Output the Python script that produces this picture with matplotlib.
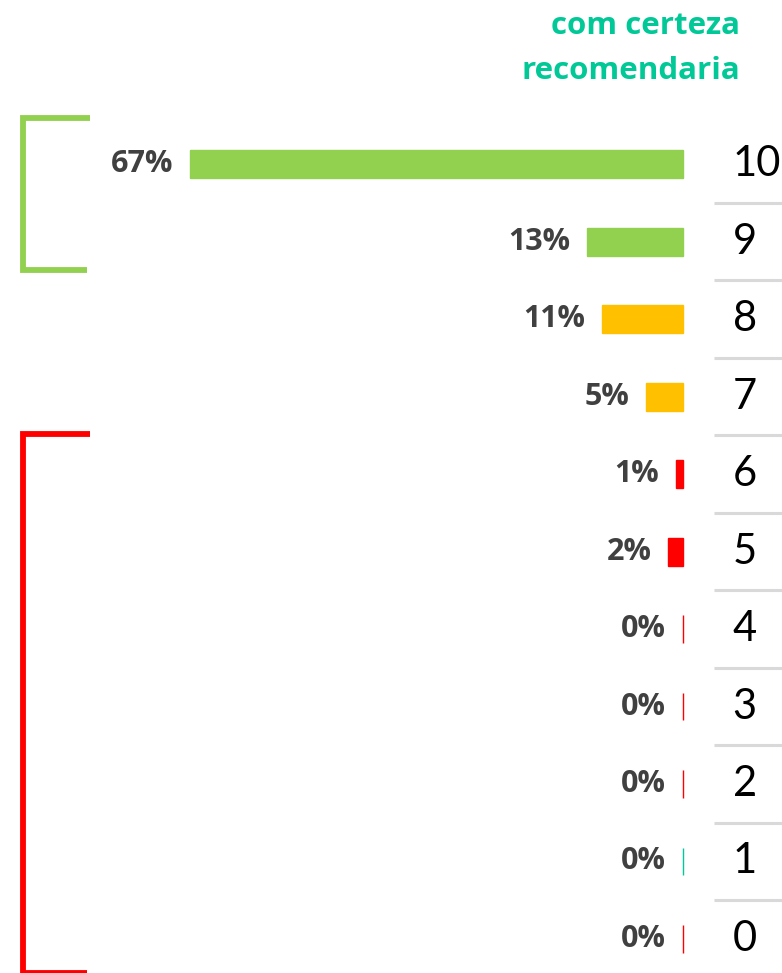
import matplotlib
matplotlib.use("Agg")
import matplotlib.pyplot as plt
import matplotlib.transforms as mtransforms

scores = [10, 9, 8, 7, 6, 5, 4, 3, 2, 1, 0]
shares = [67, 13, 11, 5, 1, 2, 0, 0, 0, 0, 0]
labels = ["67%", "13%", "11%", "5%", "1%", "2%", "0%", "0%", "0%", "0%", "0%"]
bar_colors = ["#92D050", "#92D050", "#FFC000", "#FFC000", "#FF0000", "#FF0000",
              "#FF0000", "#FF0000", "#FF0000", "#00C896", "#FF0000"]
title = "com certeza\nrecomendaria"

plt.rcParams['font.family'] = ['Lato', 'DejaVu Sans']

fig = plt.figure(figsize=(7.82, 9.73), dpi=100)
ax = fig.add_axes([0, 0, 1, 1])
ax.set_xlim(92.8, -13.45)
ax.set_ylim(-0.44, 12.12)
ax.axis("off")

ax.barh(scores, shares, height=0.36, color=bar_colors,
        edgecolor=bar_colors, linewidth=1.0)

for s, v, lab in zip(scores, shares, labels):
    ax.annotate(lab, (v, s), xytext=(-12, 0), textcoords="offset points",
                ha="right", va="center", fontsize=22, fontweight="bold",
                family="Open Sans", color="#404040")

# score column on the right with light separators
tr = mtransforms.blended_transform_factory(ax.transAxes, ax.transData)
for s in scores:
    ax.text(0.937, s, str(s), transform=tr, ha="left", va="center",
            fontsize=30, color="black")
for s in scores[:-1]:
    ax.plot([0.913, 1.0], [s - 0.5, s - 0.5], transform=tr,
            color="#D9D9D9", lw=2.2, solid_capstyle="butt")

# brackets grouping promoters and detractors
def bracket(top, bottom, color):
    ax.plot([0.115, 0.0295, 0.0295, 0.111], [top, top, bottom, bottom],
            transform=tr, color=color, lw=4.2,
            solid_joinstyle="miter", solid_capstyle="butt")

bracket(10.6, 8.64, "#92D050")
bracket(6.52, -0.44, "#FF0000")

ax.text(0.946, 0.989, title, transform=ax.transAxes, ha="right", va="top",
        fontsize=22.5, fontweight="bold", family="Open Sans",
        color="#00C896", linespacing=1.66)

fig.savefig("out.png", dpi=100)
